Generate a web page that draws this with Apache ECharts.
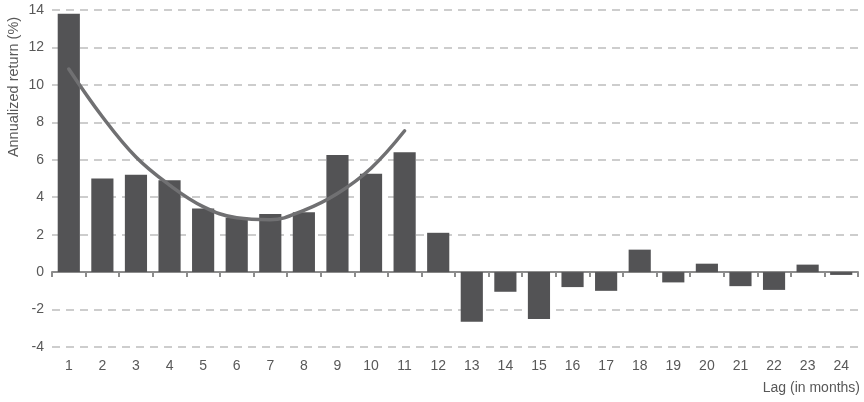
<!DOCTYPE html>
<html>
<head>
<meta charset="utf-8">
<script src="https://cdn.jsdelivr.net/npm/echarts@6/dist/echarts.min.js"></script>
<style>
  html, body { margin: 0; padding: 0; background: #fff; }
  #chart { width: 864px; height: 402px; }
</style>
</head>
<body>
<div id="chart"></div>
<script>
// Lag in months
const lags = ['1','2','3','4','5','6','7','8','9','10','11','12',
              '13','14','15','16','17','18','19','20','21','22','23','24'];
// Annualized return per lag (%)
const returns = [13.8, 5.0, 5.2, 4.9, 3.4, 2.9, 3.1, 3.2, 6.25, 5.25, 6.4, 2.1,
                 -2.65, -1.05, -2.5, -0.8, -1.0, 1.2, -0.55, 0.45, -0.75, -0.95, 0.4, -0.15];
// Fitted trend over the first eleven lags
const trend = [10.85, 8.3, 6.15, 4.65, 3.5, 2.9, 2.8, 3.3, 4.2, 5.55, 7.55];

const textColor = '#585858';
const fontFamily = 'Liberation Sans, Arial, sans-serif';

const chart = echarts.init(document.getElementById('chart'));
chart.setOption({
  animation: false,
  backgroundColor: '#ffffff',
  textStyle: { fontFamily: fontFamily, color: textColor },
  grid: { left: 52, right: 6, top: 10, bottom: 55, containLabel: false },
  xAxis: [
    {
      type: 'category',
      data: lags,
      position: 'bottom',
      boundaryGap: true,
      axisLine: { show: true, onZero: true, lineStyle: { color: '#8c8c8c', width: 2 } },
      axisTick: { show: true, alignWithLabel: false, length: 5, lineStyle: { color: '#8c8c8c', width: 2 } },
      axisLabel: { show: false },
      splitLine: { show: false }
    },
    {
      type: 'category',
      data: lags,
      position: 'bottom',
      boundaryGap: true,
      axisLine: { show: false, onZero: false },
      axisTick: { show: false },
      axisLabel: { show: true, color: textColor, fontSize: 14, fontFamily: fontFamily, margin: 12 },
      splitLine: { show: false },
      name: 'Lag (in months)',
      nameLocation: 'end',
      nameTextStyle: {
        color: textColor, fontSize: 14, fontFamily: fontFamily,
        align: 'right', verticalAlign: 'top', padding: [34, 0, 0, 0]
      },
      nameGap: 2
    }
  ],
  yAxis: {
    type: 'value',
    min: -4,
    max: 14,
    interval: 2,
    axisLine: { show: false },
    axisTick: { show: false },
    axisLabel: { color: textColor, fontSize: 14, fontFamily: fontFamily, margin: 8 },
    splitLine: { show: true, lineStyle: { color: '#bdbdbd', width: 1.5, type: [8, 6] } }
  },
  graphic: [
    {
      type: 'text',
      x: 14,
      y: 87,
      rotation: Math.PI / 2,
      style: {
        text: 'Annualized return (%)',
        fill: textColor,
        font: '14.5px ' + fontFamily,
        textAlign: 'center',
        textVerticalAlign: 'middle'
      }
    }
  ],
  series: [
    {
      type: 'bar',
      xAxisIndex: 0,
      data: returns,
      barWidth: '66%',
      itemStyle: { color: '#535355' }
    },
    {
      type: 'line',
      xAxisIndex: 0,
      data: trend,
      smooth: 0.4,
      symbol: 'none',
      lineStyle: { color: '#707072', width: 3.5, cap: 'round' },
      z: 3
    }
  ]
});
</script>
</body>
</html>
